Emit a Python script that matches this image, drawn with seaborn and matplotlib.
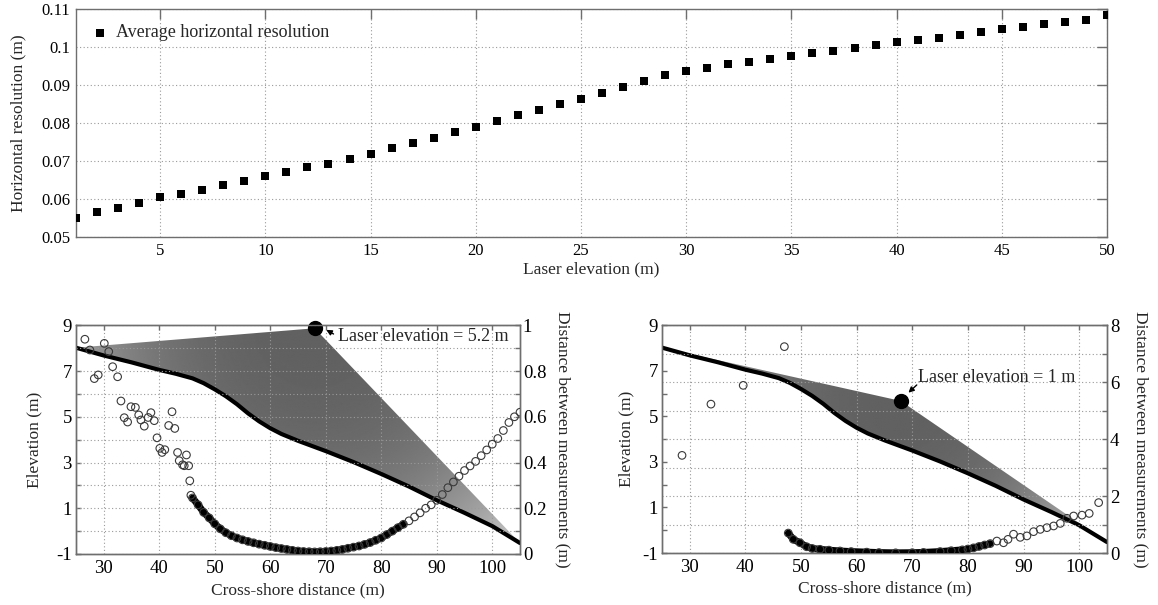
import numpy as np
import matplotlib
matplotlib.use("Agg")
import matplotlib.pyplot as plt
import seaborn as sns
from matplotlib.patches import Polygon

# ---------------- data ----------------
# Top: average horizontal resolution versus laser elevation
laser_elev = list(range(1, 51))
avg_resolution = [0.0549, 0.0565, 0.0576, 0.0590, 0.0604, 0.0612, 0.0623, 0.0637, 0.0648, 0.0661,
                  0.0670, 0.0684, 0.0693, 0.0706, 0.0718, 0.0735, 0.0747, 0.0760, 0.0776, 0.0790,
                  0.0805, 0.0820, 0.0834, 0.0849, 0.0864, 0.0878, 0.0895, 0.0911, 0.0927, 0.0938,
                  0.0945, 0.0955, 0.0960, 0.0969, 0.0975, 0.0983, 0.0989, 0.0997, 0.1005, 0.1012,
                  0.1019, 0.1025, 0.1032, 0.1039, 0.1047, 0.1052, 0.1060, 0.1065, 0.1072, 0.1083]

# Beach profile (cross-shore distance, elevation)
profile_x = [25, 30, 35, 40, 43, 46, 48, 50, 52, 54, 56, 58, 60, 62, 65, 70, 75, 80, 85, 90, 95, 100, 105]
profile_z = [8.02, 7.68, 7.38, 7.05, 6.88, 6.68, 6.47, 6.20, 5.90, 5.55, 5.15, 4.80, 4.50, 4.25, 3.95,
             3.50, 3.02, 2.50, 1.95, 1.35, 0.80, 0.22, -0.52]

# Laser positions for the two scenarios
laser_x = [68.0, 67.9]
laser_z = [8.87, 5.68]
laser_height_label = ["5.2", "1"]

# Distance between measurements, laser elevation = 5.2 m
spacing_a_x = [26.6, 27.5, 28.3, 29.0, 30.1, 30.9, 31.6, 32.5, 33.1, 33.7, 34.3, 34.9, 35.7, 36.3,
               36.7, 37.3, 38.0, 38.5, 39.1, 39.6, 40.1, 40.5, 41.0, 41.7, 42.3, 42.8, 43.3, 43.6,
               44.2, 44.5, 44.9, 45.3, 45.5, 45.7,
               46, 47, 48, 49, 50, 51, 52, 53, 54, 55, 56, 57, 58, 59, 60, 61, 62, 63, 64, 65,
               66, 67, 68, 69, 70, 71, 72, 73, 74, 75, 76, 77, 78, 79, 80, 81, 82, 83, 84, 85,
               86, 87, 88, 89, 90, 91, 92, 93, 94, 95, 96, 97, 98, 99, 100, 101, 102, 103, 104, 105]
spacing_a = [0.939, 0.892, 0.767, 0.783, 0.921, 0.885, 0.819, 0.775, 0.669, 0.596, 0.577, 0.644,
             0.641, 0.608, 0.586, 0.559, 0.597, 0.618, 0.583, 0.508, 0.462, 0.444, 0.456, 0.562,
             0.622, 0.549, 0.444, 0.408, 0.390, 0.386, 0.433, 0.386, 0.320, 0.257,
             0.245, 0.215, 0.182, 0.158, 0.132, 0.110, 0.093, 0.080, 0.070, 0.062, 0.055, 0.049,
             0.043, 0.038, 0.033, 0.028, 0.024, 0.020, 0.016, 0.013, 0.011, 0.010, 0.009, 0.010,
             0.011, 0.013, 0.016, 0.020, 0.025, 0.030, 0.035, 0.042, 0.050, 0.060, 0.070, 0.085,
             0.100, 0.115, 0.130, 0.145, 0.162, 0.180, 0.200, 0.215, 0.235, 0.260, 0.290, 0.315,
             0.340, 0.365, 0.385, 0.405, 0.430, 0.455, 0.480, 0.505, 0.540, 0.575, 0.600, 0.620]

# Distance between measurements, laser elevation = 1 m
spacing_b_x = [28.6, 33.8, 39.6, 47.0, 47.7, 48.6, 49.8, 51.0, 52.0, 53.4, 55.0, 57.0, 59.0, 61.8,
               64.0, 67.0, 70.0, 72.0, 75.0, 77.0, 79.0, 80.0, 81.0, 82.0, 83.0, 84.0, 85.2, 86.4,
               87.2, 88.2, 89.4, 90.6, 91.8, 93.0, 94.2, 95.4, 96.6, 97.8, 99.0, 100.5, 101.8, 103.5]
spacing_b = [3.43, 5.23, 5.89, 7.25, 0.70, 0.48, 0.36, 0.22, 0.16, 0.13, 0.10, 0.07, 0.05, 0.03,
             0.015, 0.005, 0.01, 0.02, 0.05, 0.08, 0.11, 0.14, 0.18, 0.23, 0.28, 0.33, 0.42, 0.36,
             0.48, 0.66, 0.55, 0.60, 0.75, 0.83, 0.89, 0.95, 1.04, 1.22, 1.30, 1.33, 1.39, 1.77]

# ---------------- style ----------------
sns.set_theme(style="white")
plt.rcParams["font.family"] = ["Liberation Serif", "DejaVu Serif"]

SPINE = "#6e6e6e"
GRID = dict(color="#9a9a9a", linestyle=(0, (1, 2.2)), linewidth=0.8)

W, H = 1158, 605
fig = plt.figure(figsize=(W / 100, H / 100), dpi=100)
fig.patch.set_facecolor("white")


def px_axes(left, top, right, bottom):
    return fig.add_axes([left / W, (H - bottom) / H, (right - left) / W, (bottom - top) / H])


def style_spines(ax):
    for s in ax.spines.values():
        s.set_color(SPINE)
        s.set_linewidth(1.0)
        s.set_visible(True)


# ---------------- top panel ----------------
ax = px_axes(76, 9, 1107, 237)
sns.scatterplot(x=laser_elev, y=avg_resolution, marker="s", s=34, color="black",
                edgecolor="black", linewidth=0, ax=ax, label="Average horizontal resolution",
                zorder=3)
ax.set_xlim(1, 50)
ax.set_ylim(0.05, 0.11)
ax.set_xticks(range(5, 51, 5))
yt = [0.05, 0.06, 0.07, 0.08, 0.09, 0.10, 0.11]
ax.set_yticks(yt)
ax.set_yticklabels([f"{v:g}" for v in yt])
ax.grid(True, **GRID)
ax.tick_params(direction="in", top=True, right=True, length=7, width=1, color=SPINE,
               labelsize=12, pad=4, labelcolor="black")
style_spines(ax)
ax.set_xlabel("Laser elevation (m)", fontsize=12.5, va="center")
ax.set_ylabel("Horizontal resolution (m)", fontsize=12.5, va="center")
ax.xaxis.set_label_coords(0.5, -0.14)
ax.yaxis.set_label_coords(-0.056, 0.5)
ax.legend(loc="upper left", frameon=False, fontsize=13, handlelength=1.0,
          handletextpad=0.35, borderaxespad=0.45, borderpad=0.4, markerscale=1.0)


# ---------------- bottom panels ----------------
def profile_panel(box, lx, lz, hlabel, sx, sy, ymax2, yticks2, ylab2_fmt, text_xy, arrow_tail,
                  arrow_head, ylab_x, ylab2_x):
    ax = px_axes(*box)
    xlim, ylim = (25, 105), (-1, 9)
    ax.set_xlim(*xlim)
    ax.set_ylim(*ylim)

    # fan of laser rays from the scanner down to the profile
    verts = np.column_stack([[lx] + profile_x + [lx], [lz] + profile_z + [lz]])
    patch = Polygon(verts, closed=True, facecolor="none", edgecolor="none")
    ax.add_patch(patch)
    pxu = (box[2] - box[0]) / (xlim[1] - xlim[0])
    pzu = (box[3] - box[1]) / (ylim[1] - ylim[0])
    gx = np.linspace(xlim[0], xlim[1], 500)
    gz = np.linspace(ylim[0], ylim[1], 300)
    X, Z = np.meshgrid(gx, gz)
    d = np.hypot((X - lx) * pxu, (Z - lz) * pzu)
    dmax = max(np.hypot((np.array(profile_x) - lx) * pxu, (np.array(profile_z) - lz) * pzu))
    shade = 0.38 + 0.42 * np.clip(d / dmax, 0, 1) ** 2.6
    im = ax.imshow(shade, extent=[xlim[0], xlim[1], ylim[0], ylim[1]], origin="lower",
                   cmap="gray", vmin=0, vmax=1, aspect="auto", zorder=1, interpolation="bilinear")
    im.set_clip_path(patch)

    sns.lineplot(x=profile_x, y=profile_z, color="black", linewidth=3.0, ax=ax, zorder=4)
    ax.plot([lx], [lz], marker="o", markersize=10, color="black", zorder=6, clip_on=False)
    ax.annotate("", xy=arrow_head, xytext=arrow_tail,
                arrowprops=dict(arrowstyle="-|>", color="black", lw=1.0, mutation_scale=8,
                                shrinkA=0, shrinkB=0), zorder=6)
    ax.text(text_xy[0], text_xy[1], f"Laser elevation = {hlabel} m", fontsize=13,
            ha="left", va="center", zorder=6)

    ax.set_xticks(range(30, 101, 10))
    ax.set_yticks(range(-1, 10))
    ax.set_yticklabels([str(v) if v % 2 else "" for v in range(-1, 10)])
    ax.grid(True, axis="x", **GRID)
    ax.set_axisbelow(False)
    ax.tick_params(direction="in", top=True, right=False, length=3.5, width=1, color=SPINE,
                   labelsize=13.5, pad=3, labelcolor="black")
    ax.tick_params(axis="x", pad=4)
    style_spines(ax)
    ax.set_xlabel("Cross-shore distance (m)", fontsize=12.5, va="center")
    ax.xaxis.set_label_coords(0.5, -0.157)
    ax.set_ylabel("Elevation (m)", fontsize=12.5, va="center")
    ax.yaxis.set_label_coords(ylab_x, 0.5)

    ax2 = ax.twinx()
    ax2.set_ylim(0, ymax2)
    ax2.set_yticks(yticks2)
    ax2.set_yticklabels([ylab2_fmt(v) for v in yticks2])
    ax2.grid(True, axis="y", **GRID)
    ax2.tick_params(direction="in", right=True, left=False, length=3.5, width=1, color=SPINE,
                    labelsize=13.5, pad=2, labelcolor="black")
    style_spines(ax2)
    ax2.set_ylabel("Distance between measurements (m)", fontsize=12.5, rotation=270,
                   va="center", ha="center")
    ax2.yaxis.set_label_coords(ylab2_x, 0.5)
    ax2.set_xlim(*xlim)

    # measurement spacing: solid trace where the returns pile up, open circles everywhere
    sx_arr, sy_arr = np.array(sx), np.array(sy)
    dense = (sx_arr >= 46) & (sx_arr <= 84) & (sy_arr < 0.3 * ymax2)
    sns.lineplot(x=sx_arr[dense], y=sy_arr[dense], color="black", linewidth=5.0, ax=ax2,
                 zorder=5)
    ax2.scatter(sx, sy, s=30, marker="o", facecolors="none", edgecolors="#3a3a3a",
                linewidths=0.8, zorder=6)
    return ax, ax2


def fmt_a(v):
    v = round(v, 1)
    if abs(v * 10) % 2 > 0.5:
        return ""
    return f"{v:g}"


def fmt_b(v):
    return str(int(v)) if int(v) % 2 == 0 else ""


profile_panel((76, 325.3, 520, 554), laser_x[0], laser_z[0], laser_height_label[0],
              spacing_a_x, spacing_a, 1.0, [round(0.1 * i, 1) for i in range(11)], fmt_a,
              text_xy=(72.2, 8.53), arrow_tail=(71.4, 8.62), arrow_head=(70.1, 8.8),
              ylab_x=-0.0946, ylab2_x=1.097)

profile_panel((662, 325.3, 1107, 553), laser_x[1], laser_z[1], laser_height_label[1],
              spacing_b_x, spacing_b, 8.0, list(range(0, 9)), fmt_b,
              text_xy=(71.0, 6.69), arrow_tail=(70.8, 6.38), arrow_head=(69.3, 6.04),
              ylab_x=-0.079, ylab2_x=1.0757)

fig.savefig("out.png", dpi=100, facecolor="white")
